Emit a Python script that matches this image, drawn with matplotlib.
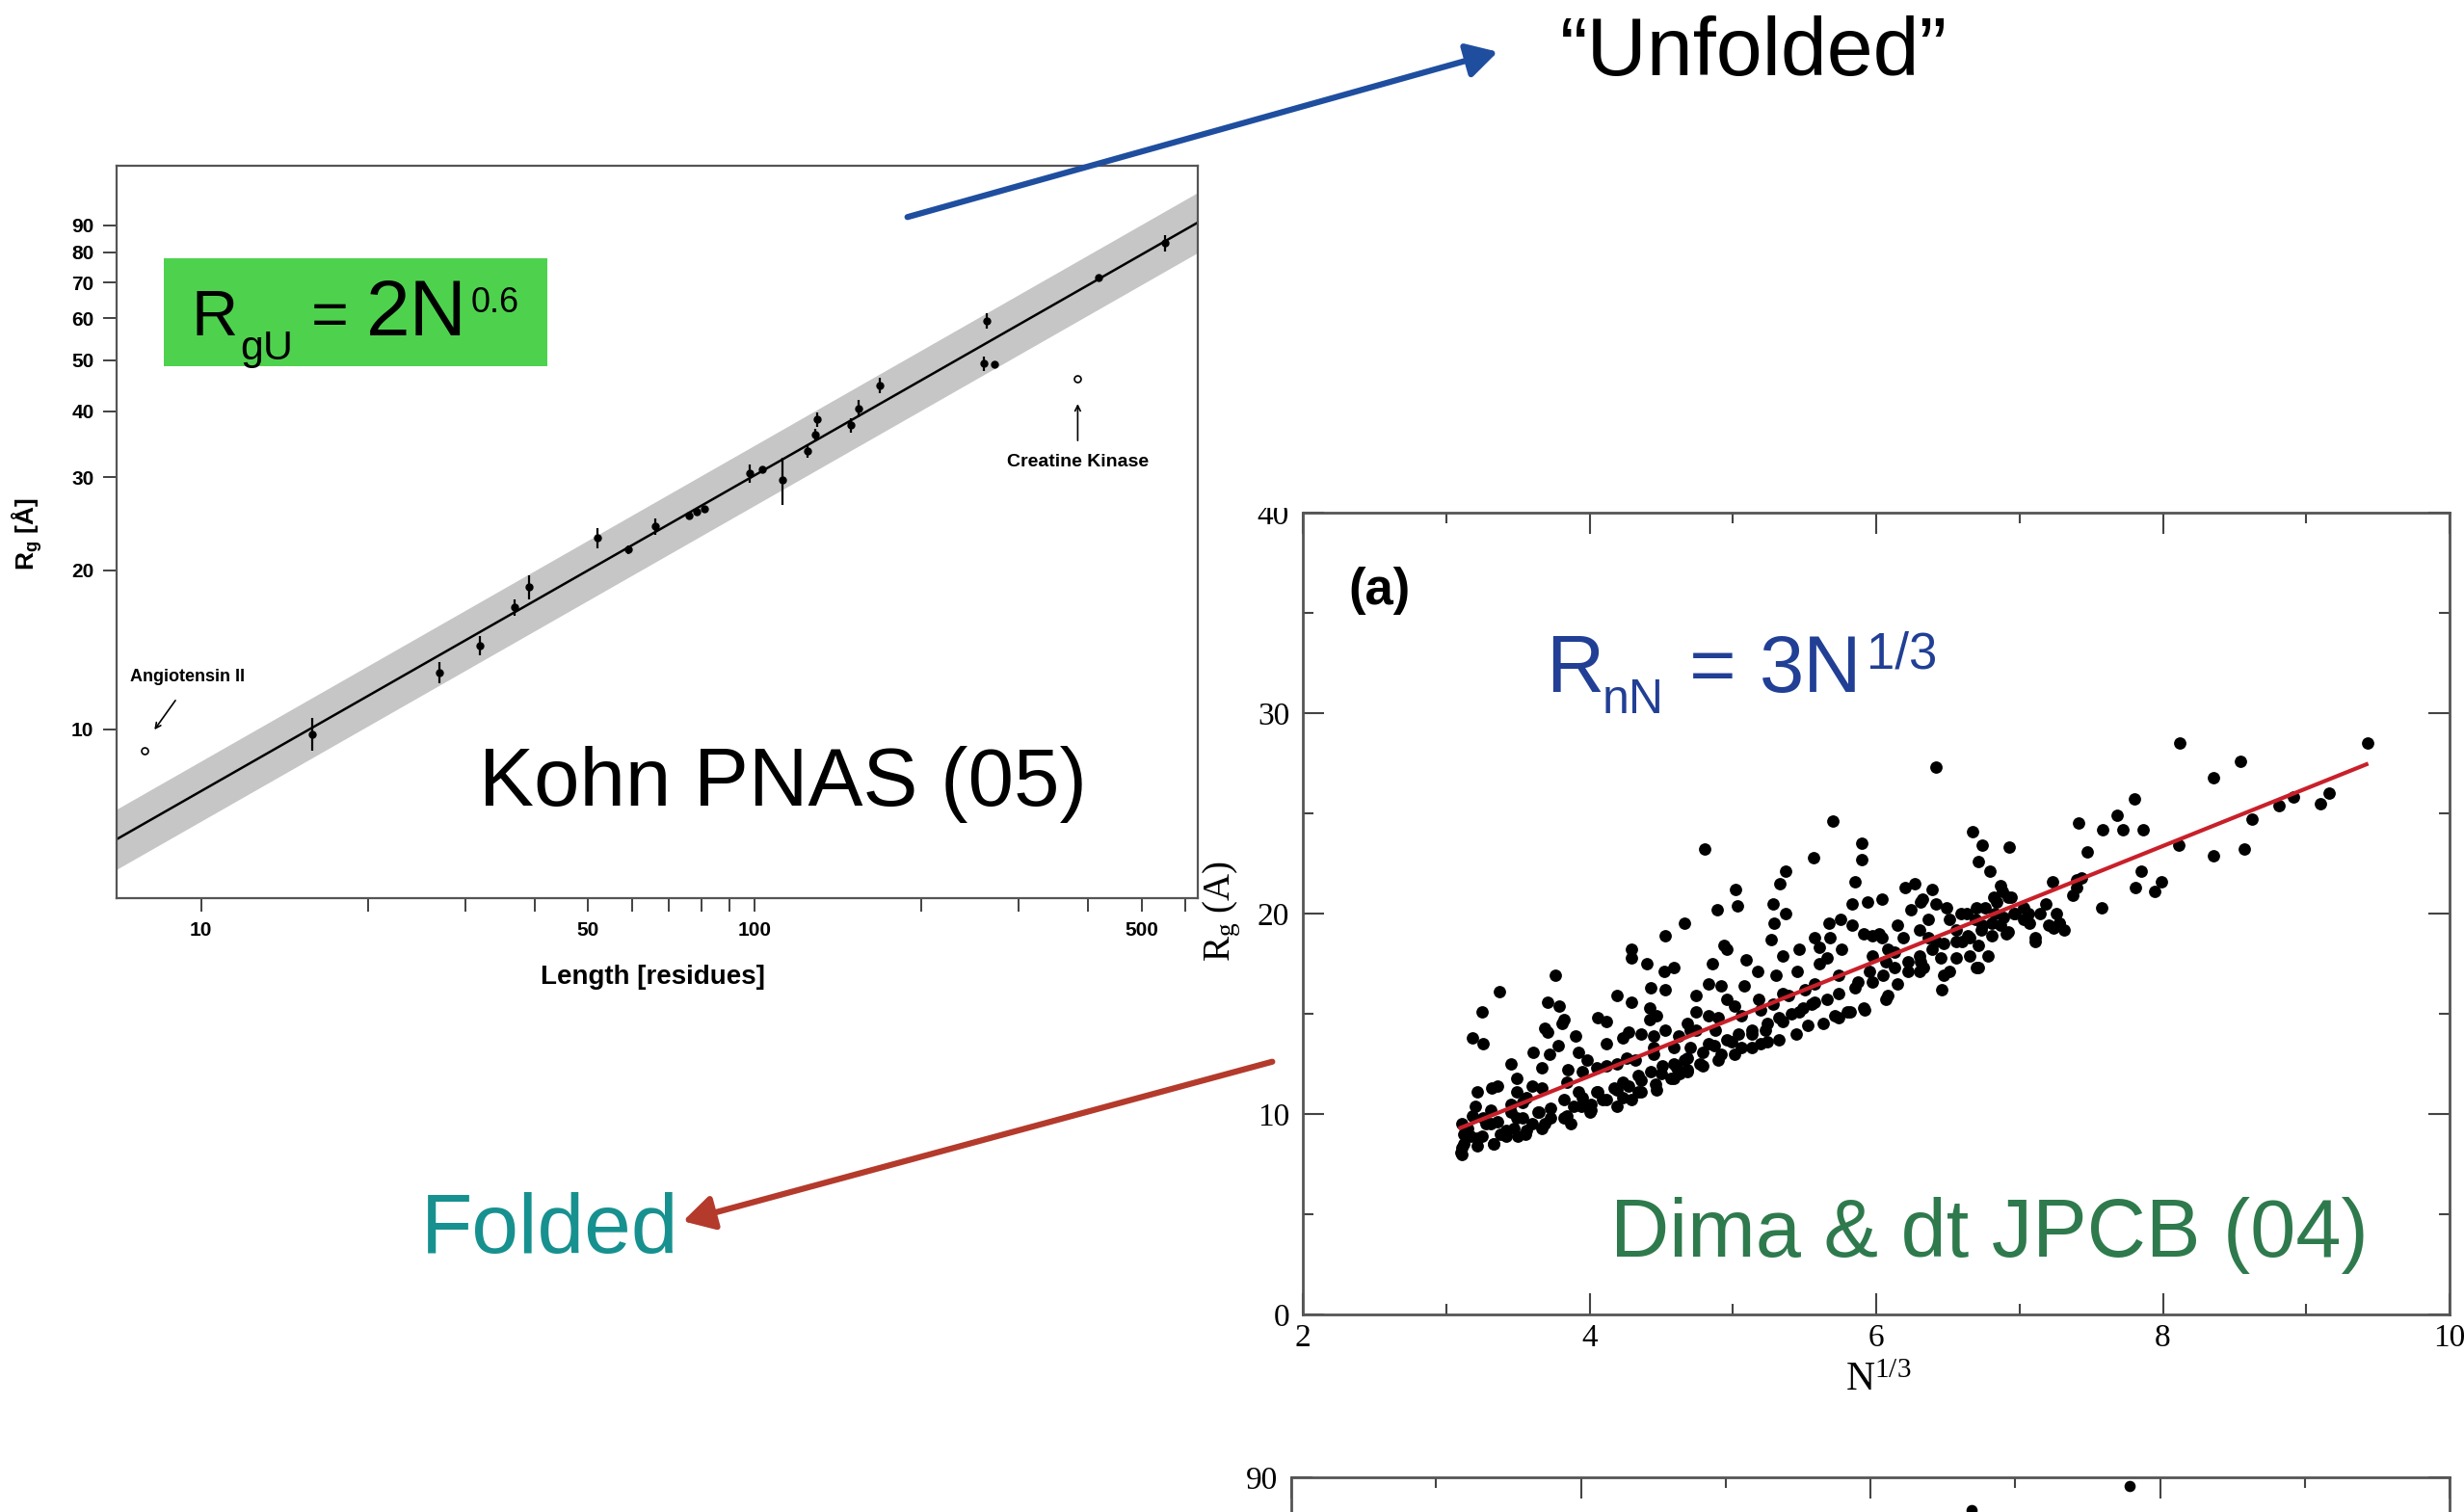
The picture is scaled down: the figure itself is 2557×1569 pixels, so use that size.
import numpy as np
import matplotlib.pyplot as plt
from matplotlib.patches import Rectangle, FancyArrowPatch

W, H = 2557, 1569
SANS = 'Liberation Sans'
SERIF = 'Liberation Serif'

# ---- Kohn et al.: Rg of unfolded proteins vs. chain length ----
kohn_n = [15.9, 27.0, 31.9, 36.9, 39.1, 52.0, 59.2, 66.0, 76.0, 78.5, 81.1,
          97.8, 103.3, 112.0, 124.7, 128.8, 129.5, 148.9, 153.8, 168.0,
          262.0, 259.5, 271.0, 418.0, 549.6]
kohn_rg = [9.8, 12.8, 14.4, 17.0, 18.6, 23.0, 21.9, 24.2, 25.4, 25.8, 26.1,
           30.5, 31.0, 29.6, 33.6, 36.1, 38.6, 37.6, 40.5, 44.7,
           59.3, 49.2, 49.1, 71.5, 83.2]
kohn_err = [0.7, 0.6, 0.6, 0.6, 1.0, 1.0, 0.4, 0.9, 0.4, 0.4, 0.4,
            1.2, 0.5, 3.0, 1.0, 1.0, 1.2, 1.2, 1.5, 1.5,
            2.0, 1.5, 0.5, 1.0, 3.0]
# excluded outliers (open symbols)
outlier_n = [7.9, 383.0]
outlier_rg = [9.1, 46.0]
kohn_pref, kohn_expo = 1.927, 0.598
kohn_band = 1.14

kohn_xticks = [10, 20, 30, 40, 50, 60, 70, 80, 90, 100, 200, 300, 400, 500, 600]
kohn_xlabels = ['10', '', '', '', '50', '', '', '', '', '100', '', '', '', '500', '']
kohn_yticks = [10, 20, 30, 40, 50, 60, 70, 80, 90]

# ---- Dima & Thirumalai: Rg of folded proteins vs. N^(1/3) ----
dima_pts = [
    # large N
    (8.12, 28.5), (8.54, 27.6), (8.35, 26.8), (9.43, 28.5), (9.16, 26.0), (9.10, 25.5),
    (8.91, 25.8), (8.81, 25.4), (8.62, 24.7), (8.11, 23.4), (8.35, 22.9), (8.57, 23.2),
    (7.99, 21.6),
    (6.42, 27.3), (7.80, 25.7), (7.68, 24.9), (7.72, 24.2), (7.58, 24.2), (7.86, 24.2),
    (7.41, 24.5), (7.47, 23.1), (6.67, 24.1), (6.74, 23.4), (6.93, 23.3), (6.71, 22.6),
    (6.79, 22.1), (7.85, 22.1), (7.81, 21.3), (7.94, 21.1), (7.57, 20.3), (7.40, 21.7),
    (7.40, 21.3), (7.23, 21.6), (6.39, 21.2), (6.32, 20.7), (6.46, 16.2), (7.28, 19.5),
    (7.24, 19.3), (7.11, 18.8), (7.18, 20.5), (7.14, 20.0), (7.07, 19.5), (7.03, 19.7),
    (6.96, 20.0), (6.94, 20.8), (6.87, 21.4), (6.88, 21.1), (6.82, 20.8), (6.83, 20.0),
    (6.76, 20.3), (6.87, 19.4), (6.91, 19.0), (6.81, 18.9), (6.74, 19.4), (6.69, 19.7),
    (6.63, 20.0), (6.49, 20.3), (6.42, 20.5), (6.36, 19.7), (6.51, 19.7), (6.56, 19.2),
    (6.65, 18.8), (6.71, 18.4), (6.78, 17.9), (6.71, 17.3), (6.51, 17.1), (6.56, 17.8),
    (6.45, 17.8), (6.31, 17.6), (6.33, 17.3), (6.42, 18.6), (6.60, 18.6), (6.65, 17.9),
    (7.37, 20.9), (7.43, 21.8), (7.26, 20.0),
    # middle N
    (5.70, 24.6), (4.80, 23.2), (5.56, 22.8), (5.90, 23.5), (5.90, 22.7), (5.37, 22.1),
    (5.33, 21.5), (5.85, 21.6), (5.02, 21.2), (5.03, 20.4), (4.89, 20.2), (5.28, 20.5),
    (5.37, 20.0), (5.83, 20.5), (5.94, 20.6), (6.04, 20.7), (6.20, 21.3), (6.27, 21.5),
    (6.24, 20.2), (6.31, 20.6), (4.66, 19.5), (5.29, 19.5), (4.94, 18.4), (5.27, 18.7),
    (5.35, 17.9), (5.67, 19.5), (5.75, 19.7), (5.83, 19.4), (5.91, 19.0), (5.97, 18.9),
    (6.02, 19.0), (5.68, 18.8), (5.60, 18.3), (5.76, 18.2), (5.09, 17.7), (4.86, 17.5),
    (5.17, 17.1), (5.30, 16.9), (5.45, 17.1), (5.60, 17.5), (5.66, 17.8), (5.87, 16.6),
    (5.95, 17.1), (6.07, 17.6), (6.13, 18.1), (6.22, 17.1), (6.15, 16.5), (6.07, 15.7),
    (5.92, 15.2), (5.82, 15.1), (5.71, 14.9), (4.83, 16.5), (4.74, 15.9), (4.92, 16.4),
    (5.08, 16.4), (4.96, 15.7), (4.74, 15.1), (4.70, 14.2), (4.83, 14.9), (4.88, 14.2),
    (5.06, 14.9), (5.19, 15.2), (5.28, 15.5), (5.39, 15.9), (5.50, 16.2), (5.55, 15.5),
    (5.46, 15.1), (5.35, 14.6), (5.23, 14.2), (5.13, 14.0), (4.99, 13.6), (4.83, 13.5),
    (4.70, 13.3), (4.66, 12.7), (4.77, 12.5), (4.92, 13.0), (5.06, 13.3), (5.19, 13.5),
    (4.68, 12.2), (4.63, 12.0),
    # small N
    (4.53, 18.9), (4.29, 18.2), (4.29, 17.8), (4.40, 17.5), (4.52, 17.1), (4.53, 16.2),
    (3.76, 16.9), (3.37, 16.1), (4.19, 15.9), (3.25, 15.1), (3.71, 15.6), (3.79, 15.4),
    (3.82, 14.7), (4.12, 14.6), (4.42, 15.3), (4.47, 14.9), (4.42, 14.7), (3.69, 14.3),
    (3.71, 14.1), (4.53, 14.2), (3.18, 13.8), (3.26, 13.5), (3.90, 13.9), (4.27, 14.1),
    (4.12, 13.5), (4.23, 13.8), (4.36, 14.0), (3.78, 13.4), (3.92, 13.1), (3.72, 13.0),
    (3.98, 12.7), (3.67, 12.3), (3.49, 11.8), (3.32, 11.3), (3.36, 11.4), (3.60, 11.4),
    (3.49, 11.1), (3.85, 12.2), (4.05, 12.3), (4.19, 12.5), (4.32, 12.7), (4.45, 13.0),
    (4.59, 13.3), (3.20, 10.4), (3.18, 9.9), (3.11, 9.5), (3.12, 9.0), (3.11, 8.3),
    (3.11, 8.0), (3.22, 8.8), (3.31, 9.5), (3.33, 8.5), (3.42, 9.2), (3.49, 9.8),
    (3.55, 9.0), (3.65, 10.1), (3.73, 10.3), (3.82, 9.8), (3.82, 10.7), (3.94, 10.4),
    (3.92, 11.1), (4.05, 11.1), (4.09, 10.7), (4.19, 11.2), (4.27, 11.4), (4.36, 11.7),
    (4.50, 12.0), (4.61, 12.3), (4.59, 11.8), (4.19, 10.4), (4.00, 10.1), (4.36, 11.1),
    (4.47, 11.2), (4.29, 10.7), (3.69, 9.5), (3.60, 9.5), (3.38, 9.0), (3.26, 9.8),
    (3.45, 10.1), (3.53, 10.6),
    # dense band under the fit
    (3.15, 9.3), (3.10, 8.1), (3.12, 8.5), (3.17, 8.9), (3.25, 8.9), (3.33, 8.5),
    (3.42, 8.9), (3.47, 9.3), (3.56, 9.2), (3.28, 9.5), (3.36, 9.6), (3.53, 9.8),
    (3.64, 10.1), (3.73, 9.8), (3.84, 9.9), (3.89, 10.4), (4.01, 10.5), (3.95, 10.8),
    (4.06, 11.1), (4.17, 11.3), (4.23, 11.6), (4.34, 11.9), (4.43, 12.1), (4.51, 12.4),
    (4.59, 12.5), (4.68, 12.8), (4.79, 13.1), (4.87, 13.4), (4.96, 13.7), (5.04, 14.0),
    (5.13, 14.2), (5.24, 14.5), (5.32, 14.8), (5.41, 15.0), (5.49, 15.3), (5.57, 15.6),
    (5.66, 15.7), (5.74, 16.0), (5.85, 16.3), (5.97, 16.6), (6.05, 16.9), (6.13, 17.3),
    (6.22, 17.6), (6.30, 17.9), (6.39, 18.2), (6.47, 18.5), (6.56, 18.6), (6.64, 18.9),
    (6.73, 19.2), (6.81, 19.5), (6.89, 19.8), (6.97, 20.0), (7.06, 20.0), (7.11, 18.6),
    (6.92, 19.1), (7.20, 19.4), (7.28, 19.5), (7.31, 19.2), (6.70, 17.3), (6.47, 16.9),
    (6.30, 17.1), (6.08, 15.9), (5.91, 15.3), (5.80, 15.1), (5.74, 14.8), (5.63, 14.5),
    (5.52, 14.4), (5.44, 14.0), (5.32, 13.7), (5.24, 13.6), (5.13, 13.3), (5.01, 13.0),
    (4.90, 12.7), (4.79, 12.4), (4.68, 12.1), (4.57, 11.8), (4.46, 11.5), (4.34, 11.1),
    (4.23, 10.8), (4.12, 10.7), (4.01, 10.2), (3.87, 9.5), (3.67, 9.3), (3.50, 8.9),
    (3.22, 8.4),
    # scatter above the fit
    (4.12, 12.4), (4.26, 12.8), (4.45, 13.3), (4.62, 13.9), (4.74, 14.2), (4.90, 14.8),
    (5.01, 15.4), (5.18, 15.7), (5.35, 16.0), (5.57, 16.5), (5.74, 16.9), (5.97, 17.9),
    (6.08, 18.2), (6.19, 18.8), (6.30, 19.2), (6.59, 20.0), (6.70, 20.3), (6.84, 20.6),
    (6.92, 20.8), (7.03, 20.3), (4.45, 13.9), (4.68, 14.5), (3.95, 12.1), (3.84, 11.6),
    (3.67, 11.3), (3.56, 10.8), (3.45, 10.5), (3.31, 10.2), (3.22, 11.1), (3.45, 12.5),
    (3.61, 13.1), (3.81, 14.5), (4.06, 14.8), (4.29, 15.6), (4.43, 16.3), (4.59, 17.3),
    (4.96, 18.2), (5.46, 18.2), (5.57, 18.8), (6.04, 18.8), (6.15, 19.4), (6.36, 18.8),
]
dima_fit_x = [3.1, 9.42]
dima_slope, dima_icpt = 2.87, 0.41

# the panel below (only its top edge shows)
lower_x = [7.79, 6.70]
lower_y = [89.0, 86.3]

fig = plt.figure(figsize=(W / 100, H / 100), dpi=100)


def box(l, t, r, b):
    # pixel box (top-left origin) -> figure fraction rect
    return [l / W, 1 - b / H, (r - l) / W, (b - t) / H]


def ftext(x, y, s, **kw):
    return fig.text(x / W, 1 - y / H, s, **kw)


def runs(parts, color):
    # pieces of a formula placed at their own pixel baselines
    for x, y, s, size in parts:
        ftext(x, y, s, fontsize=size, color=color, family=SANS, va='baseline',
              ha='left', zorder=5)


# ------------------------------------------------ Kohn panel
ax1 = fig.add_axes(box(121, 172, 1243, 932))
ax1.set_xscale('log')
ax1.set_yscale('log')
nn = np.geomspace(7.04, 631, 200)
fit = kohn_pref * nn ** kohn_expo
ax1.fill_between(nn, fit / kohn_band, fit * kohn_band, color='#c6c6c6', lw=0)
ax1.plot(nn, fit, color='k', lw=1.8)
ax1.errorbar(kohn_n, kohn_rg, yerr=kohn_err, fmt='o', ms=5, color='k',
             elinewidth=1.6, capsize=0)
ax1.plot(outlier_n, outlier_rg, 'o', ms=5, mfc='white', mec='k', mew=1.2)
ax1.set_xlim(7.04, 631)
ax1.set_ylim(4.79, 116.6)
ax1.set_xticks(kohn_xticks, kohn_xlabels)
ax1.set_yticks(kohn_yticks, [str(v) for v in kohn_yticks])
ax1.minorticks_off()
ax1.tick_params(direction='out', length=10, width=1.3, color='#333333', pad=7,
                labelsize=15)
for lab in ax1.get_xticklabels() + ax1.get_yticklabels():
    lab.set_fontweight('bold')
    lab.set_family(SANS)
for sp in ax1.spines.values():
    sp.set_linewidth(1.6)
    sp.set_color('#555555')

ax1.text(9.44, 12.58, 'Angiotensin II', ha='center', va='center', fontsize=13,
         family=SANS, fontweight='bold')
ax1.annotate('', xy=(8.24, 9.98), xytext=(8.99, 11.34),
             arrowprops=dict(arrowstyle='->', lw=1.2, color='k', shrinkA=0, shrinkB=0))
ax1.text(383, 32.0, 'Creatine Kinase', ha='center', va='center', fontsize=14,
         family=SANS, fontweight='bold')
ax1.annotate('', xy=(383, 41.3), xytext=(383, 35.2),
             arrowprops=dict(arrowstyle='->', lw=1.2, color='k', shrinkA=0, shrinkB=0))

ftext(677, 1014, 'Length [residues]', ha='center', va='center', fontsize=20,
      fontweight='bold', family=SANS)
ftext(28, 554, r'$\mathregular{R_g}$ [Å]', ha='center', va='center', rotation=90,
      fontsize=19, fontweight='bold', family=SANS)

# green formula box
fig.add_artist(Rectangle((170 / W, 1 - 380 / H), 398 / W, 112 / H,
                         transform=fig.transFigure, color='#4ed24e', lw=0, zorder=2))
runs([(198, 348, 'R', 48), (249, 373, 'gU', 31), (323, 348, '=', 48),
      (380, 348, '2N', 59), (489, 324, '0.6', 26)], 'black')

ftext(497, 836, 'Kohn PNAS (05)', fontsize=61.5, family=SANS, va='baseline')

# ------------------------------------------------ Dima panel
dx, dy = np.array(dima_pts).T
ax2 = fig.add_axes(box(1352, 532, 2542, 1364))
ax2.scatter(dx, dy, s=85, c='k', lw=0, zorder=2)
fx_line = np.array(dima_fit_x)
ax2.plot(fx_line, dima_slope * fx_line + dima_icpt, color='#c8202a', lw=3, zorder=3)
ax2.set_xlim(2, 10)
ax2.set_ylim(0, 40)
ax2.set_xticks([2, 4, 6, 8, 10])
ax2.set_xticks([3, 5, 7, 9], minor=True)
ax2.set_yticks([0, 10, 20, 30, 40])
ax2.set_yticks([5, 15, 25, 35], minor=True)

# the panel below shares the same frame style
ax3 = fig.add_axes(box(1340, 1533, 2542, 2365))
ax3.scatter(lower_x, lower_y, s=70, c='k', lw=0)
ax3.set_xlim(2, 10)
ax3.set_ylim(0, 90)
ax3.set_xticks([2, 4, 6, 8, 10], [])
ax3.set_xticks([3, 5, 7, 9], minor=True)
ax3.set_yticks([90])

for ax in (ax2, ax3):
    ax.tick_params(which='both', direction='in', top=True, right=True,
                   color='#444444', width=1.5)
    ax.tick_params(which='major', length=16, labelsize=24, pad=10)
    ax.tick_params(which='minor', length=8)
    ax.tick_params(axis='x', pad=7)
    for lab in ax.get_xticklabels() + ax.get_yticklabels():
        lab.set_family(SERIF)
    for sp in ax.spines.values():
        sp.set_linewidth(2.0)
        sp.set_color('#555555')

# the top of the scanned panel is cut just above its frame
fig.add_artist(Rectangle((1270 / W, 1 - 527 / H), 80 / W, 40 / H,
                         transform=fig.transFigure, color='white', lw=0, zorder=2))

ftext(1949, 1433, r'$\mathregular{N^{1/3}}$', ha='center', va='center',
      fontsize=30, family=SERIF)
ftext(1268, 946, r'$\mathregular{R_g}$ (A)', ha='center', va='center', rotation=90,
      fontsize=28, family=SERIF)
ftext(1432, 613, '(a)', ha='center', va='center', fontsize=38, fontweight='bold',
      family=SANS)
runs([(1604, 718, 'R', 60), (1663, 740, 'nN', 36), (1753, 718, '=', 60),
      (1826, 718, '3N', 60), (1937, 693, '1/3', 38)], '#213f95')
ftext(1671, 1304, 'Dima & dt JPCB (04)', fontsize=61, family=SANS, va='baseline',
      color='#2e7a4d')

# ------------------------------------------------ arrows and captions
fig.add_artist(FancyArrowPatch((939 / W, 1 - 226 / H), (1557 / W, 1 - 53 / H),
                               transform=fig.transFigure,
                               arrowstyle='-|>,head_length=0.8,head_width=0.45',
                               mutation_scale=24, lw=4.5, color='#1f4e9f', zorder=6))
fig.add_artist(FancyArrowPatch((1323 / W, 1 - 1101 / H), (706 / W, 1 - 1268 / H),
                               transform=fig.transFigure,
                               arrowstyle='-|>,head_length=0.8,head_width=0.45',
                               mutation_scale=24, lw=4.5, color='#b43a2c', zorder=6))

ftext(1619, 78, '\u201cUnfolded\u201d', fontsize=62, family=SANS, va='baseline')
ftext(437, 1300, 'Folded', fontsize=63, family=SANS, va='baseline', color='#17918f')

fig.savefig('out.png', dpi=100)
